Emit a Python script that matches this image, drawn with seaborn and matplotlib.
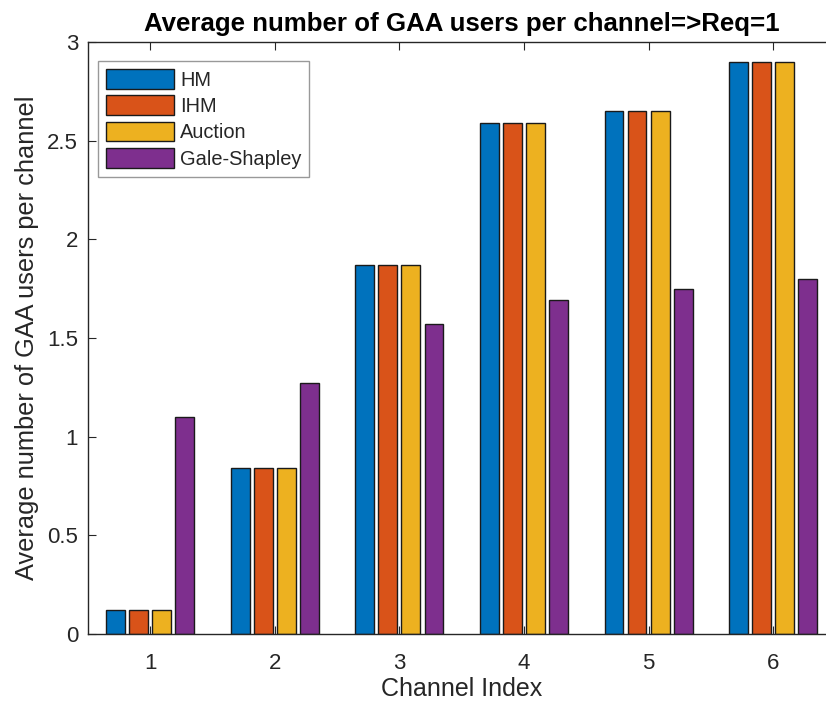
import matplotlib
matplotlib.use("Agg")
import matplotlib.pyplot as plt
import seaborn as sns
import pandas as pd

channels = ["1", "2", "3", "4", "5", "6"]
hm = [0.12, 0.84, 1.87, 2.59, 2.65, 2.90]
ihm = [0.12, 0.84, 1.87, 2.59, 2.65, 2.90]
auction = [0.12, 0.84, 1.87, 2.59, 2.65, 2.90]
gale_shapley = [1.10, 1.27, 1.57, 1.69, 1.75, 1.80]
methods = ["HM", "IHM", "Auction", "Gale-Shapley"]
colors = ["#0072BD", "#D95319", "#EDB120", "#7E2F8E"]

rows = []
for name, vals in zip(methods, [hm, ihm, auction, gale_shapley]):
    for ch, v in zip(channels, vals):
        rows.append({"Channel": ch, "Method": name, "Value": v})
df = pd.DataFrame(rows)

sns.set_theme(style="white")
plt.rcParams["font.family"] = ["Liberation Sans", "DejaVu Sans"]

fig = plt.figure(figsize=(8.26, 7.02), dpi=100)
ax = fig.add_axes([0.1065, 0.0969, 0.9049, 0.8433])

sns.barplot(data=df, x="Channel", y="Value", hue="Method", order=channels,
            hue_order=methods, palette=colors, width=0.74, gap=0.18,
            edgecolor="#1a1a1a", linewidth=1.0, saturation=1.0, ax=ax)

ax.set_xlim(-0.5, 5.5)
ax.set_ylim(0, 3)
ax.set_yticks([0, 0.5, 1, 1.5, 2, 2.5, 3])
ax.set_yticklabels(["0", "0.5", "1", "1.5", "2", "2.5", "3"])

axis_col = "#262626"
for side in ["left", "bottom", "top", "right"]:
    ax.spines[side].set_color(axis_col)
    ax.spines[side].set_linewidth(1.0)
ax.tick_params(axis="both", direction="in", length=6, width=0.8,
               color=axis_col, labelsize=16, labelcolor=axis_col,
               top=True, right=True, bottom=True, left=True)
ax.tick_params(axis="x", pad=14)
ax.tick_params(axis="y", pad=7)

ax.set_xlabel("Channel Index", fontsize=18, color=axis_col, labelpad=2)
ax.set_ylabel("Average number of GAA users per channel", fontsize=18.3,
              color=axis_col, labelpad=6)
ax.set_title("Average number of GAA users per channel=>Req=1",
             fontsize=18.6, fontweight="bold", color="black", pad=8)

leg = ax.legend(loc="upper left", bbox_to_anchor=(0.0134, 0.968),
                fontsize=14.4, frameon=True, fancybox=False,
                handlelength=3.4, handleheight=1.15, handletextpad=0.3,
                labelspacing=0.28, borderpad=0.4, borderaxespad=0.0)
leg.get_frame().set_edgecolor("#808080")
leg.get_frame().set_linewidth(1.0)
for t in leg.get_texts():
    t.set_color(axis_col)

fig.savefig("out.png", dpi=100)
